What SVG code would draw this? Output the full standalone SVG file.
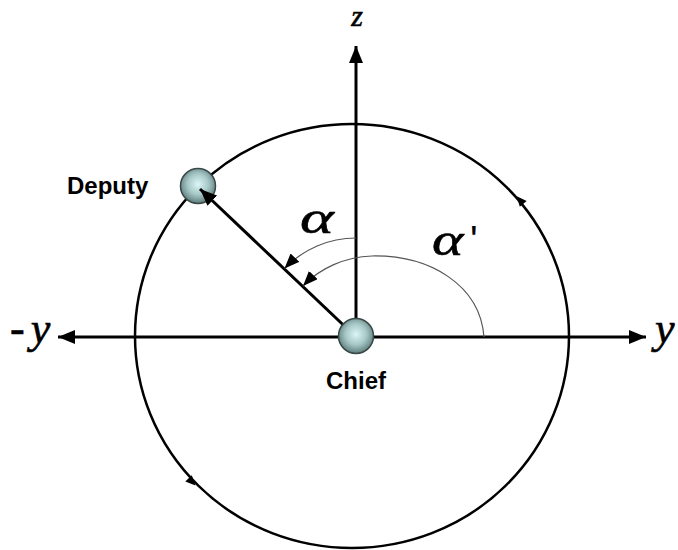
<svg xmlns="http://www.w3.org/2000/svg" width="678" height="550" viewBox="0 0 678 550">
<style>
.axis{stroke:#000;stroke-width:3;fill:none}
.orbit{stroke:#000;stroke-width:2.5;fill:none}
.arc{stroke:#555;stroke-width:1.2;fill:none}
.lbl{font-family:"Liberation Sans",Arial,sans-serif;font-weight:bold;font-size:24px;fill:#000}
.math{font-family:"Liberation Serif","Times New Roman",serif;font-style:italic;fill:#000;stroke:#000;stroke-width:0.6}
.sphere{fill:url(#sg);stroke:#3a4848;stroke-width:1.5}
</style>
<defs>
<radialGradient id="sg" cx="50%" cy="45%" r="55%">
<stop offset="0%" stop-color="#dcf6f6"/>
<stop offset="55%" stop-color="#a6c6c6"/>
<stop offset="100%" stop-color="#5e7c7c"/>
</radialGradient>
<marker id="ax" markerUnits="userSpaceOnUse" markerWidth="18" markerHeight="14" refX="17" refY="7" orient="auto-start-reverse">
<path d="M0,0 L17,7 L0,14 z" fill="#000"/>
</marker>
<marker id="ar" markerUnits="userSpaceOnUse" markerWidth="16" markerHeight="12" refX="15" refY="6" orient="auto">
<path d="M0,0 L15,6 L0,12 z" fill="#000"/>
</marker>
</defs>
<g id="orbit">
<ellipse class="orbit" cx="352" cy="336" rx="217" ry="212"/>
<path d="M5,0 L-5,-4.5 L-5,4.5 z" fill="#000" transform="translate(520,200) rotate(-130.3)"/>
<path d="M5,0 L-5,-4.5 L-5,4.5 z" fill="#000" transform="translate(192,482) rotate(46.3)"/>
</g>
<g id="deputy">
<circle class="sphere" cx="198" cy="186" r="17.5"/>
<text class="lbl" x="67" y="194">Deputy</text>
</g>
<g id="connectors">
<line class="axis" x1="58" y1="337" x2="646" y2="337" marker-start="url(#ax)" marker-end="url(#ax)"/>
<line class="axis" x1="356" y1="337" x2="356" y2="46" marker-end="url(#ax)"/>
<line class="axis" x1="356" y1="337" x2="200" y2="189" marker-end="url(#ax)"/>
<path class="arc" d="M356,238 A99,99 0 0 0 284.5,268.5" marker-end="url(#ar)"/>
<path class="arc" d="M484,337 C480,285 430,255 372,256 C345,257 320,268 303,286" marker-end="url(#ar)"/>
</g>
<g id="chief">
<circle class="sphere" cx="356" cy="336" r="17.5"/>
<text class="lbl" x="356" y="389" text-anchor="middle">Chief</text>
</g>
<g id="labels">
<text class="math" x="357" y="26" font-size="30" text-anchor="middle">z</text>
<text class="math" x="10" y="343" font-size="44">-<tspan dx="6">y</tspan></text>
<text class="math" x="655" y="343" font-size="44">y</text>
<text class="math" font-size="46" transform="translate(300,233) scale(1.4,1)">α</text>
<text class="math" font-size="46" transform="translate(432,255) scale(1.3,1)">α</text>
<text x="470" y="254" font-family="Liberation Sans,Arial,sans-serif" font-size="40" fill="#000">'</text>
</g>
</svg>
